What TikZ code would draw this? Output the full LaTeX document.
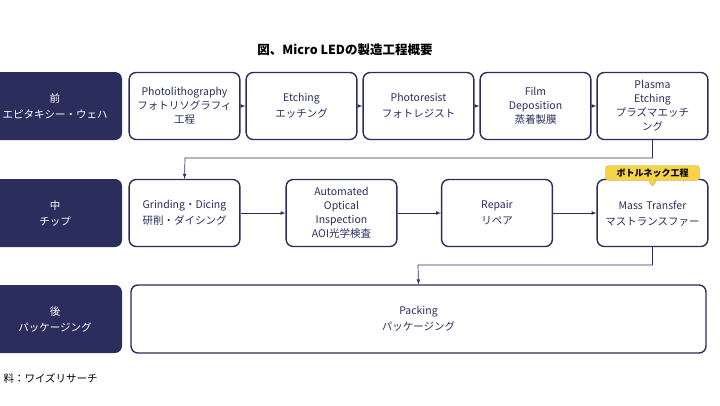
\documentclass[tikz,border=0pt]{standalone}
\usepackage{fontspec}
\setmainfont{Noto Sans CJK JP}
\usetikzlibrary{shapes.callouts}
\definecolor{navy}{HTML}{2B2D5C}
\definecolor{tagyellow}{HTML}{F7D34A}
\begin{document}
\begin{tikzpicture}[x=1pt,y=-1pt,
phase/.style={rectangle,fill=navy,text=white,rounded corners=7pt,minimum width=134pt,minimum height=68pt,align=center,font=\fontsize{10.5}{16}\selectfont},
proc/.style={rectangle,draw=navy,line width=1.4pt,fill=white,rounded corners=7pt,minimum width=106pt,minimum height=67pt,text width=104pt,align=center,text=navy,font=\fontsize{10.5}{14}\selectfont},
flow/.style={->,>=latex,draw=navy,line width=0.7pt}]

\useasboundingbox (0,0) rectangle (720,405);

% タイトル
\node[font=\bfseries\fontsize{12.5}{14}\selectfont] (title) at (345,50) {図、Micro LEDの製造工程概要};

% 前工程
\node[phase] (front) at (55,106) {前\\エピタキシー・ウェハ};
\node[proc] (s1) at (184.5,106) {Photolithography\\フォトリソグラフィ\\工程};
\node[proc] (s2) at (301.5,106) {Etching\\[2pt]エッチング};
\node[proc] (s3) at (418.5,106) {Photoresist\\[2pt]フォトレジスト};
\node[proc] (s4) at (535.5,106) {Film\\Deposition\\蒸着製膜};
\node[proc] (s5) at (652.5,106) {Plasma\\Etching\\プラズマエッチ\\ング};

% 中工程
\node[phase] (mid) at (55,213) {中\\チップ};
\node[proc] (m1) at (184.5,213) {Grinding・Dicing\\[2pt]研削・ダイシング};
\node[proc] (m2) at (341.5,213) {Automated\\Optical\\Inspection\\AOI光学検査};
\node[proc] (m3) at (497,213) {Repair\\[2pt]リペア};
\node[proc] (m4) at (652.5,213) {\\[-4pt]Mass Transfer\\[2pt]マストランスファー};
\node[rectangle callout,fill=tagyellow,draw=tagyellow!80!black,rounded corners=3pt,
  callout relative pointer={(0,-7pt)},font=\bfseries\fontsize{9}{10}\selectfont,
  inner sep=3pt,minimum width=94pt] (neck) at (652.5,173) {ボトルネック工程};

% 後工程
\node[phase] (back) at (55,319) {後\\パッケージング};
\node[proc,minimum width=575pt,text width=560pt,minimum height=68pt] (pack) at (418.5,319) {Packing\\[2pt]パッケージング};

\node[anchor=west,font=\fontsize{10.5}{12}\selectfont] (src) at (0,378) {料：ワイズリサーチ};

\foreach \a/\b in {s1/s2,s2/s3,s3/s4,s4/s5,m1/m2,m2/m3,m3/m4}
  \draw[flow] (\a) -- (\b);
\draw[flow] (s5.south) |- (185,158) -- (m1.north);
\draw[flow] (m4.south) |- (418,265) -- (pack.north);
\end{tikzpicture}
\end{document}
